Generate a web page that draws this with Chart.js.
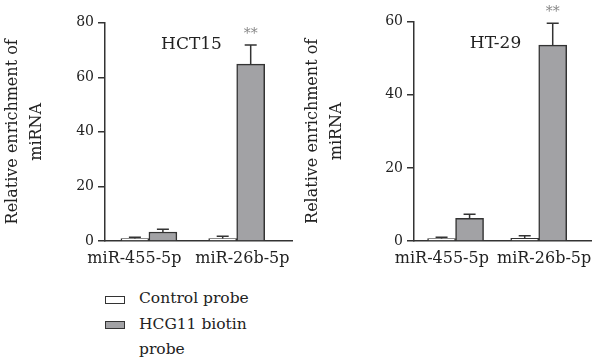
<!DOCTYPE html>
<html>
<head>
<meta charset="utf-8">
<script src="https://cdn.jsdelivr.net/npm/chart.js@4"></script>
<style>
  html, body { margin: 0; padding: 0; background: #fff; }
  body { width: 600px; height: 361px; position: relative; overflow: hidden; font-family: "DejaVu Serif", serif; color: #222; }
  .cv { position: absolute; top: 0; width: 300px; height: 280px; }
  #c1 { left: 0; }
  #c2 { left: 300px; }
  .lg-box { position: absolute; left: 105px; width: 18px; height: 6px; border: 1.5px solid #333; }
  .lg-text { position: absolute; left: 139px; font-size: 15.5px; line-height: 24.5px; color: #222; }
</style>
</head>
<body>
<canvas id="c1" class="cv" width="300" height="280"></canvas>
<canvas id="c2" class="cv" width="300" height="280"></canvas>
<div class="lg-box" style="top:296px;background:#fff;"></div>
<div class="lg-text" style="top:286px;">Control probe</div>
<div class="lg-box" style="top:321px;background:#a2a2a5;"></div>
<div class="lg-text" style="top:312px;">HCG11 biotin<br>probe</div>
<script>
// ---- data ----
const categories = ['miR-455-5p', 'miR-26b-5p'];
const seriesNames = ['Control probe', 'HCG11 biotin probe'];
const yTitle = ['Relative enrichment of', 'miRNA'];

const hct15Title = 'HCT15';
const hct15Control = [0.9, 0.9];
const hct15ControlErr = [0.45, 0.8];
const hct15Biotin = [3.3, 64.8];
const hct15BiotinErr = [1.0, 7.0];
const hct15Ticks = [0, 20, 40, 60, 80];

const ht29Title = 'HT-29';
const ht29Control = [0.65, 0.75];
const ht29ControlErr = [0.35, 0.7];
const ht29Biotin = [6.2, 53.6];
const ht29BiotinErr = [1.1, 6.0];
const ht29Ticks = [0, 20, 40, 60];

const significance = ['', '**'];

// ---- styles ----
const FONT = '"DejaVu Serif", serif';
const INK = '#222';
const EDGE = '#333';
const GRAY = '#a2a2a5';
const LABEL_SHIFT = [-0.165, 0.065]; // x-label nudges (in category units) so labels don't collide

const errorBarPlugin = {
  id: 'errbars',
  afterDatasetsDraw(chart) {
    const ctx = chart.ctx;
    const ys = chart.scales.y;
    ctx.save();
    ctx.strokeStyle = EDGE;
    ctx.lineWidth = 1.5;
    chart.data.datasets.forEach((ds, di) => {
      const meta = chart.getDatasetMeta(di);
      meta.data.forEach((bar, i) => {
        const v = ds.data[i].y;
        const e = ds.errors[i];
        const yTop = ys.getPixelForValue(v + e);
        ctx.beginPath();
        ctx.moveTo(bar.x, bar.y);
        ctx.lineTo(bar.x, yTop);
        ctx.moveTo(bar.x - 6, yTop);
        ctx.lineTo(bar.x + 6, yTop);
        ctx.stroke();
        if (ds.marks && ds.marks[i]) {
          ctx.fillStyle = '#888';
          ctx.font = '14px ' + FONT;
          ctx.textAlign = 'center';
          ctx.textBaseline = 'middle';
          ctx.fillText(ds.marks[i], bar.x, yTop - 11);
        }
      });
    });
    const t = chart.options.plugins.panelTitle;
    const a = chart.chartArea;
    ctx.fillStyle = INK;
    ctx.font = '17px ' + FONT;
    ctx.textAlign = 'center';
    ctx.textBaseline = 'middle';
    ctx.fillText(t.text, (a.left + a.right) / 2 - 7, a.top + 22);
    ctx.restore();
  }
};

function makeChart(id, title, ctrl, ctrlErr, bio, bioErr, ticks, yWidth, padTop, padRight) {
  const toPts = arr => arr.map((v, i) => ({ x: i + 1, y: v }));
  return new Chart(document.getElementById(id), {
    type: 'bar',
    data: {
      datasets: [
        { label: seriesNames[0], data: toPts(ctrl), errors: ctrlErr, backgroundColor: '#fff', borderColor: EDGE, borderWidth: 1.5, barThickness: 28 },
        { label: seriesNames[1], data: toPts(bio), errors: bioErr, marks: significance, backgroundColor: GRAY, borderColor: EDGE, borderWidth: 1.5, barThickness: 28 }
      ]
    },
    options: {
      responsive: false,
      animation: false,
      layout: { padding: { left: 0, right: padRight, top: padTop, bottom: 0 } },
      plugins: { legend: { display: false }, tooltip: { enabled: false }, panelTitle: { text: title } },
      scales: {
        x: {
          type: 'linear',
          offset: false,
          min: 0.5,
          max: 2.63,
          grid: { display: false, drawTicks: false },
          border: { display: true, color: EDGE, width: 1.5 },
          afterBuildTicks: s => { s.ticks = categories.map((c, i) => ({ value: i + 1 + LABEL_SHIFT[i] })); },
          afterFit: s => { s.height = 280 - 241; },
          ticks: {
            autoSkip: false, maxRotation: 0, padding: 8,
            color: INK, font: { family: FONT, size: 16 },
            callback: (v, i) => categories[i]
          }
        },
        y: {
          min: 0,
          max: ticks[ticks.length - 1],
          afterBuildTicks: s => { s.ticks = ticks.map(v => ({ value: v })); },
          afterFit: s => { s.width = yWidth; },
          grid: { display: true, drawOnChartArea: false, drawTicks: true, tickLength: 7, color: EDGE, lineWidth: 1.5 },
          border: { display: true, color: EDGE, width: 1.5 },
          ticks: { padding: 4, color: INK, font: { family: FONT, size: 14 } },
          title: { display: true, text: yTitle, color: INK, font: { family: FONT, size: 16, lineHeight: 1.5 }, padding: { top: 1, bottom: 0 } }
        }
      }
    },
    plugins: [errorBarPlugin]
  });
}

makeChart('c1', hct15Title, hct15Control, hct15ControlErr, hct15Biotin, hct15BiotinErr, hct15Ticks, 105, 22.7, 8);
makeChart('c2', ht29Title, ht29Control, ht29ControlErr, ht29Biotin, ht29BiotinErr, ht29Ticks, 114, 21.7, 3);
</script>
</body>
</html>
